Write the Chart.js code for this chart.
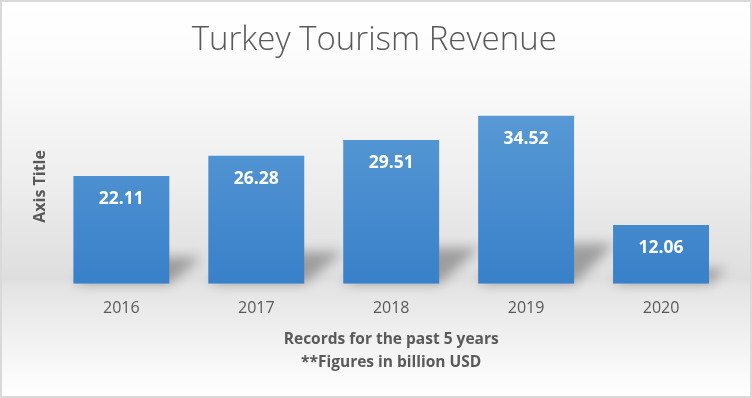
<!DOCTYPE html>
<html>
<head>
<meta charset="utf-8">
<script src="https://cdn.jsdelivr.net/npm/chart.js@4/dist/chart.umd.min.js"></script>
<style>
  html, body { margin: 0; padding: 0; background: #ffffff; }
  #wrap { width: 752px; height: 398px; position: relative; }
</style>
</head>
<body>
<div id="wrap"><canvas id="c" width="752" height="398"></canvas></div>
<script>
const chartTitle = 'Turkey Tourism Revenue';
const categories = ['2016', '2017', '2018', '2019', '2020'];
const revenue = [22.11, 26.28, 29.51, 34.52, 12.06];
const yAxisTitle = 'Axis Title';
const xAxisTitle = ['Records for the past 5 years', '**Figures in billion USD'];

const FONT = "'Open Sans', 'Noto Sans', sans-serif";
const TEXT = '#595959';

const backgroundPlugin = {
  id: 'bg',
  beforeDraw(chart) {
    const ctx = chart.ctx;
    const w = chart.width, h = chart.height;
    ctx.save();
    const g = ctx.createLinearGradient(0, 0, 0, h);
    g.addColorStop(0, '#ffffff');
    g.addColorStop(0.15, '#fcfcfc');
    g.addColorStop(0.45, '#eeeeee');
    g.addColorStop(0.70, '#dedede');
    g.addColorStop(0.72, '#e4e4e4');
    g.addColorStop(0.95, '#fbfbfb');
    g.addColorStop(1, '#ffffff');
    ctx.fillStyle = g;
    ctx.fillRect(0, 0, w, h);
    ctx.strokeStyle = '#d9d9d9';
    ctx.lineWidth = 2;
    ctx.strokeRect(1, 1, w - 2, h - 2);
    ctx.restore();
  }
};

const shadowPlugin = {
  id: 'barShadow',
  beforeDatasetsDraw(chart) {
    const ctx = chart.ctx;
    const meta = chart.getDatasetMeta(0);
    ctx.save();
    ctx.filter = 'blur(6px)';
    meta.data.forEach(bar => {
      const p = bar.getProps(['x', 'y', 'base', 'width'], true);
      const left = p.x - p.width / 2, right = p.x + p.width / 2;
      const bottom = p.base;
      const hgt = bottom - p.y;
      const dx = Math.min(hgt * 0.3, 40);
      const dy = Math.min(hgt * 0.25, 40);
      ctx.fillStyle = 'rgba(0,0,0,0.3)';
      ctx.beginPath();
      ctx.moveTo(left, bottom);
      ctx.lineTo(right, bottom);
      ctx.lineTo(right + dx, bottom - dy);
      ctx.lineTo(left + dx, bottom - dy);
      ctx.closePath();
      ctx.fill();
    });
    ctx.restore();
  }
};

const labelPlugin = {
  id: 'valueLabels',
  afterDatasetsDraw(chart) {
    const ctx = chart.ctx;
    const meta = chart.getDatasetMeta(0);
    ctx.save();
    ctx.fillStyle = '#ffffff';
    ctx.font = "bold 17.5px " + FONT;
    ctx.textAlign = 'center';
    ctx.textBaseline = 'middle';
    meta.data.forEach((bar, i) => {
      const p = bar.getProps(['x', 'y'], true);
      ctx.fillText(revenue[i].toFixed(2), p.x, p.y + 23);
    });
    ctx.restore();
  }
};

const ctx = document.getElementById('c').getContext('2d');
new Chart(ctx, {
  type: 'bar',
  data: {
    labels: categories,
    datasets: [{
      data: revenue,
      backgroundColor(c) {
        const area = c.chart.chartArea;
        if (!area) return '#4a8fd2';
        const g = c.chart.ctx.createLinearGradient(0, area.top, 0, area.bottom);
        g.addColorStop(0, '#5d9dd7');
        g.addColorStop(1, '#3880c9');
        return g;
      },
      borderWidth: 0,
      barPercentage: 0.711,
      categoryPercentage: 1.0
    }]
  },
  options: {
    responsive: false,
    animation: false,
    devicePixelRatio: 1,
    layout: { padding: { left: 20, right: 23.5, top: 0, bottom: 19.5 } },
    plugins: {
      legend: { display: false },
      tooltip: { enabled: false },
      title: {
        display: true,
        text: chartTitle,
        color: TEXT,
        font: { family: FONT, size: 33, weight: '300', lineHeight: 1.2 },
        padding: { top: 21, bottom: 28.4 }
      }
    },
    scales: {
      x: {
        grid: { display: false, drawTicks: false, tickLength: 0 },
        border: { display: false },
        ticks: { color: TEXT, font: { family: FONT, size: 16, lineHeight: 1.2 }, padding: 15 },
        title: {
          display: true,
          text: xAxisTitle,
          color: TEXT,
          font: { family: FONT, size: 15.5, weight: 'bold', lineHeight: 1.5 },
          padding: { top: -5, bottom: 4 }
        }
      },
      y: {
        min: 0,
        max: 40,
        grid: { display: false, drawTicks: false, tickLength: 0 },
        border: { display: false },
        ticks: { display: false },
        title: {
          display: true,
          text: yAxisTitle,
          color: TEXT,
          font: { family: FONT, size: 16, weight: 'bold', lineHeight: 1.2 },
          padding: { top: 10.4, bottom: 4.3 }
        }
      }
    }
  },
  plugins: [backgroundPlugin, shadowPlugin, labelPlugin]
});
</script>
</body>
</html>
